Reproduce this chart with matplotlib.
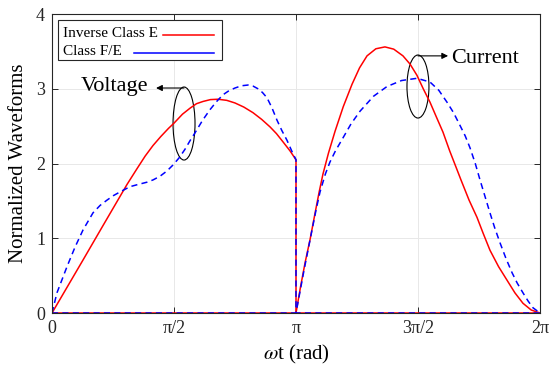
import matplotlib
matplotlib.use('Agg')
import matplotlib.pyplot as plt
import numpy as np
from matplotlib.patches import Ellipse, Rectangle

plt.rcParams['font.family'] = ['Liberation Serif', 'DejaVu Serif']
plt.rcParams['mathtext.fontset'] = 'stix'

# Voltage (first half cycle)
v_theta = [0.0, 0.4, 0.657, 0.966, 1.094, 1.2, 1.3, 1.4, 1.5, 1.571, 1.68,
           1.777, 1.86, 1.944, 2.04, 2.137, 2.25, 2.356, 2.47, 2.588, 2.70,
           2.807, 2.89, 2.974, 3.064, np.pi]
v_inv_e = [0.0, 0.71, 1.17, 1.72, 1.93, 2.10, 2.24, 2.36, 2.47, 2.54, 2.66,
           2.74, 2.80, 2.83, 2.855, 2.86, 2.845, 2.81, 2.755, 2.68, 2.59,
           2.49, 2.40, 2.29, 2.17, 2.05]

vb_theta = [0.0, 0.064, 0.193, 0.296, 0.399, 0.528, 0.62, 0.708, 0.79, 0.876,
            1.004, 1.11, 1.223, 1.30, 1.391, 1.48, 1.558, 1.64, 1.712, 1.78,
            1.841, 1.94, 2.034, 2.12, 2.202, 2.28, 2.356, 2.44, 2.524, 2.59,
            2.652, 2.71, 2.768, 2.83, 2.897, 2.96, 3.026, 3.09, np.pi]
v_class_fe = [0.0, 0.27, 0.62, 0.88, 1.11, 1.34, 1.44, 1.51, 1.57, 1.62,
              1.69, 1.72, 1.75, 1.78, 1.83, 1.90, 1.98, 2.08, 2.19, 2.31,
              2.41, 2.58, 2.72, 2.83, 2.92, 2.975, 3.01, 3.04, 3.05, 3.035,
              3.00, 2.95, 2.88, 2.75, 2.58, 2.44, 2.31, 2.16, 2.05]

# Current (second half cycle)
i_theta = [np.pi, 3.20, 3.26, 3.322, 3.386, 3.44, 3.489, 3.56, 3.644, 3.75,
           3.863, 3.96, 4.056, 4.17, 4.287, 4.40, 4.519, 4.61, 4.699, 4.78,
           4.867, 4.95, 5.034, 5.12, 5.21, 5.266, 5.37, 5.472, 5.55, 5.639,
           5.75, 5.858, 5.96, 6.064, 6.17, 2 * np.pi]
i_inv_e = [0.0, 0.35, 0.68, 0.98, 1.33, 1.62, 1.86, 2.14, 2.43, 2.76,
           3.06, 3.28, 3.44, 3.535, 3.56, 3.53, 3.44, 3.33, 3.18, 3.00,
           2.82, 2.62, 2.42, 2.17, 1.93, 1.78, 1.51, 1.28, 1.07, 0.84,
           0.62, 0.44, 0.27, 0.13, 0.04, 0.0]

ib_theta = [np.pi, 3.25, 3.348, 3.40, 3.451, 3.52, 3.579, 3.65, 3.734, 3.85,
            3.966, 4.14, 4.313, 4.50, 4.699, 4.867, 4.98, 5.086, 5.17, 5.253,
            5.32, 5.382, 5.45, 5.511, 5.575, 5.639, 5.70, 5.768, 5.845, 5.923,
            5.99, 6.064, 6.13, 6.193, 2 * np.pi]
i_class_fe = [0.0, 0.60, 1.11, 1.38, 1.62, 1.86, 2.02, 2.17, 2.32, 2.53,
              2.70, 2.90, 3.03, 3.11, 3.14, 3.09, 2.98, 2.82, 2.68, 2.51,
              2.37, 2.21, 2.00, 1.78, 1.56, 1.34, 1.14, 0.94, 0.73, 0.54,
              0.40, 0.27, 0.16, 0.07, 0.0]

xticks = [0, np.pi / 2, np.pi, 3 * np.pi / 2, 2 * np.pi]
xticklabels = ['0', 'π/2', 'π', '3π/2', '2π']
labels = ['Inverse Class E', 'Class F/E']

fig = plt.figure(figsize=(5.49, 3.66), dpi=100)
ax = fig.add_axes([0.0947, 0.1448, 0.8889, 0.8169])

red = '#ff0000'
blue = '#0000ff'
dash = (0, (4, 2.8))

# each waveform is zero during the other half cycle
ax.plot(v_theta + [np.pi, 2 * np.pi], v_inv_e + [0, 0], color=red, lw=1.1)
ax.plot([0, np.pi] + i_theta, [0, 0] + i_inv_e, color=red, lw=1.1)
ax.plot(vb_theta + [np.pi, 2 * np.pi], v_class_fe + [0, 0], color=blue,
        lw=1.1, ls=dash)
ax.plot([0, np.pi] + ib_theta, [0, 0] + i_class_fe, color=blue, lw=1.1,
        ls=dash)

ax.set_xlim(0, 2 * np.pi)
ax.set_ylim(0, 4)
ax.set_xticks(xticks)
ax.set_xticklabels(xticklabels)
ax.set_yticks([0, 1, 2, 3, 4])
ax.tick_params(direction='in', top=True, right=True, labelsize=13, length=4,
               width=0.7, colors='#262626', pad=5)
for s in ax.spines.values():
    s.set_color('#262626')
    s.set_linewidth(0.8)
ax.grid(True, color='#e8e8e8', lw=0.7)
ax.set_axisbelow(True)

ax.set_xlabel('$\\omega$t (rad)', fontsize=15, labelpad=4)
ax.set_ylabel('Normalized Waveforms', fontsize=15, labelpad=6)

# annotations
ax.add_patch(Ellipse((1.70, 2.535), 0.283, 0.977, fill=False, ec='black', lw=0.8))
ax.annotate('', xy=(1.34, 3.01), xytext=(1.70, 3.01),
            arrowprops=dict(arrowstyle='-|>', color='black', lw=0.8,
                            mutation_scale=9, shrinkA=0, shrinkB=0))
ax.text(0.80, 3.03, 'Voltage', fontsize=16, ha='center', va='center')

ax.add_patch(Ellipse((4.712, 3.03), 0.283, 0.843, fill=False, ec='black', lw=0.8))
ax.annotate('', xy=(5.10, 3.44), xytext=(4.712, 3.44),
            arrowprops=dict(arrowstyle='-|>', color='black', lw=0.8,
                            mutation_scale=9, shrinkA=0, shrinkB=0))
ax.text(5.575, 3.41, 'Current', fontsize=16, ha='center', va='center')

# legend box drawn by hand: text left, line right
tr = ax.transAxes
ax.add_patch(Rectangle((0.0123, 0.846), 0.336, 0.134, transform=tr,
                       fc='white', ec='#262626', lw=0.8, zorder=5))
ax.text(0.0225, 0.934, labels[0], transform=tr, fontsize=11, va='center',
        zorder=6)
ax.text(0.0225, 0.874, labels[1], transform=tr, fontsize=11, va='center',
        zorder=6)
ax.plot([0.2275, 0.332], [0.930, 0.930], transform=tr, color=red, lw=1.1,
        zorder=6)
ax.plot([0.168, 0.332], [0.870, 0.870], transform=tr, color=blue, lw=1.1,
        zorder=6)

fig.savefig('out.png', dpi=100)
